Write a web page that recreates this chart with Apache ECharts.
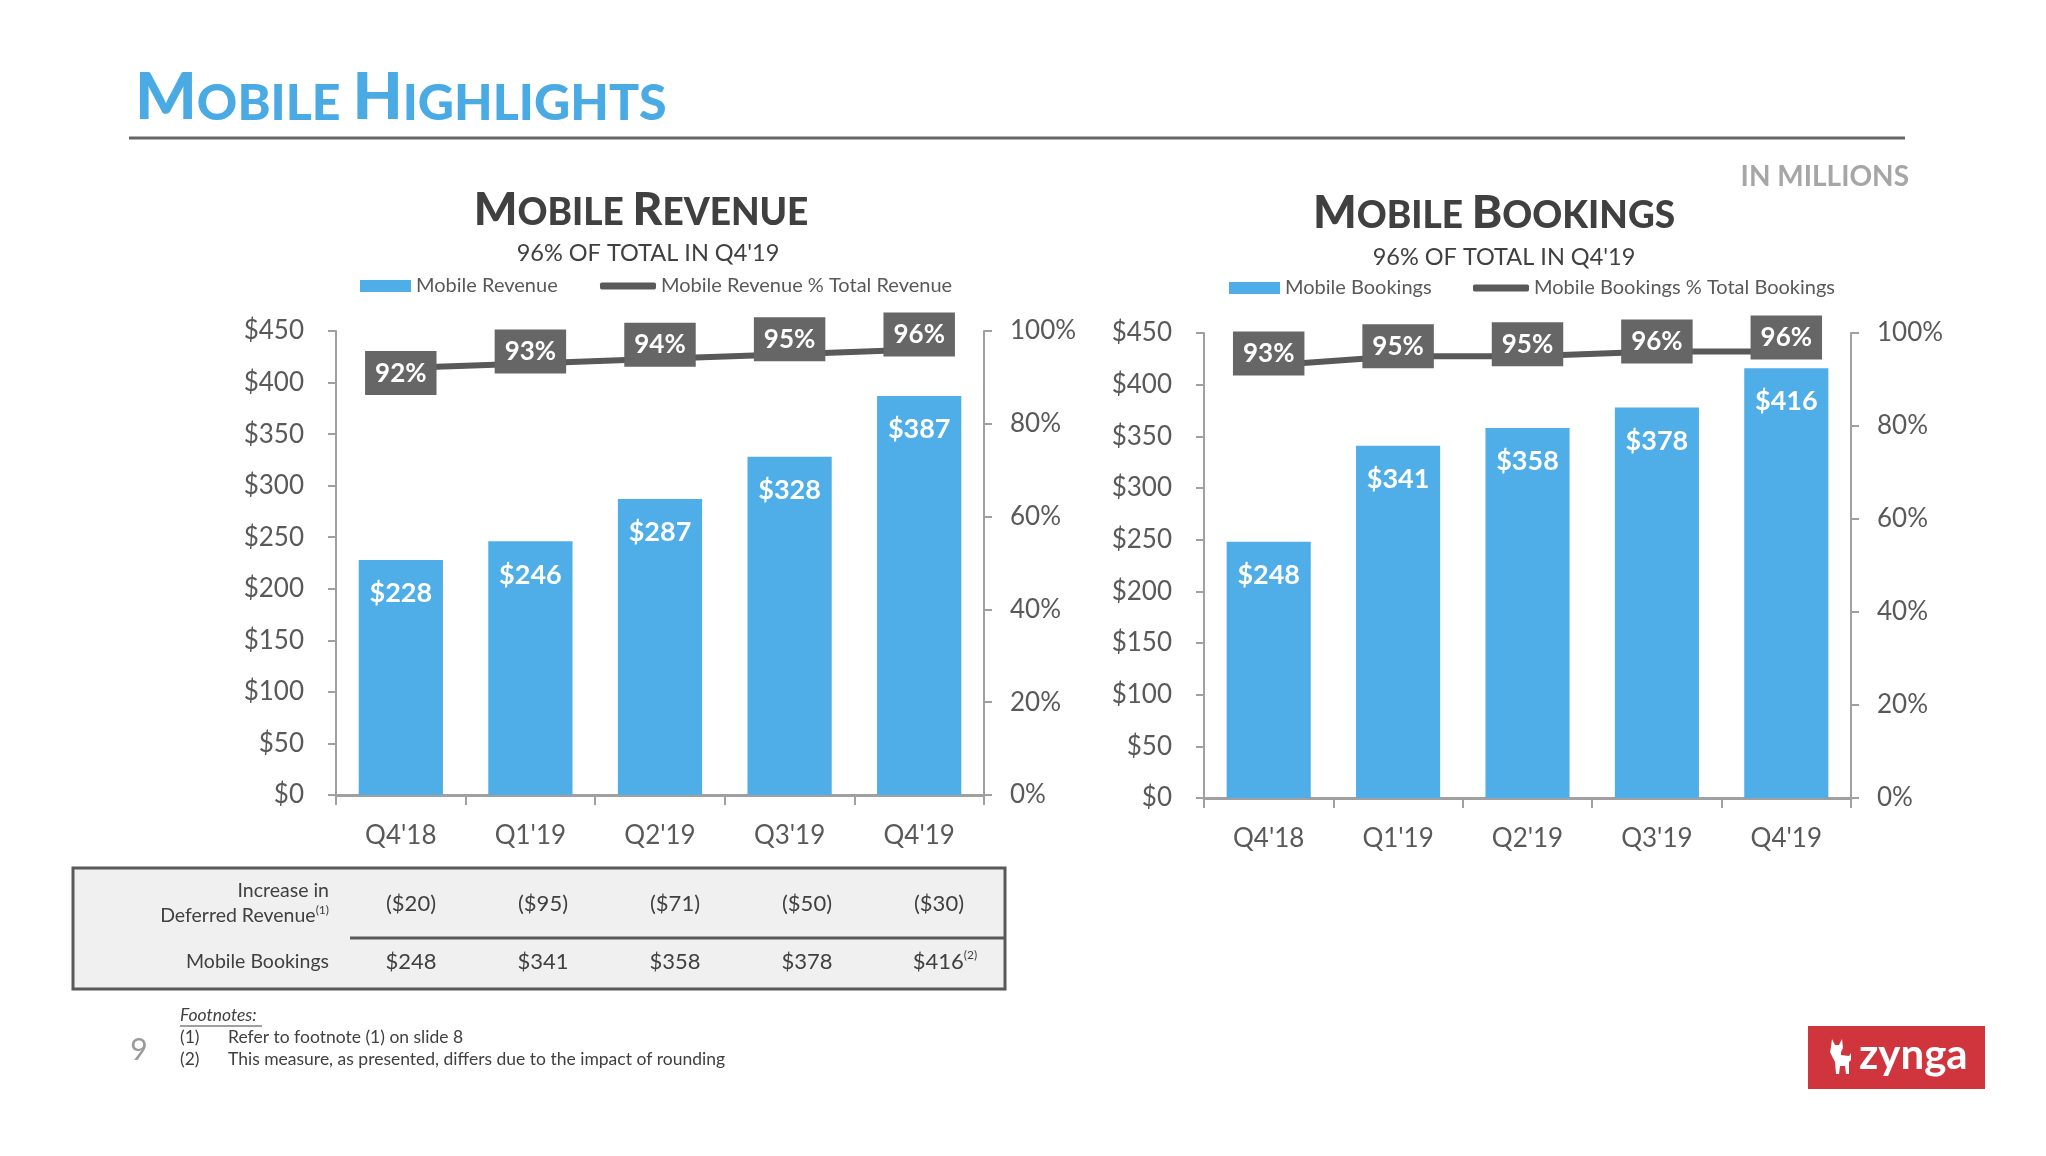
<!DOCTYPE html>
<html>
<head>
<meta charset="utf-8">
<script src="https://cdn.jsdelivr.net/npm/echarts@6/dist/echarts.min.js"></script>
<style>
html, body { margin: 0; padding: 0; background: #fff; }
#chart { width: 2046px; height: 1156px; }
</style>
</head>
<body>
<div id="chart"></div>
<script>
// data
var quarters = ["Q4'18", "Q1'19", "Q2'19", "Q3'19", "Q4'19"];
var revenue = [228, 246, 287, 328, 387];
var revenuePct = [92, 93, 94, 95, 96];
var bookings = [248, 341, 358, 378, 416];
var bookingsPct = [93, 95, 95, 96, 96];
var deferredRevenue = [-20, -95, -71, -50, -30];

var FONT = 'Lato';
var BLUE = '#4faee8';
var DARK = '#595959';
var TEXT = '#404040';
var AXIS = '#a0a0a0';

// label box nudges (like the hand placed boxes on the slide)
var revPctOffsets = [5, -12, -14, -15, -15];
var bookPctOffsets = [-12, -10, -12, -10, -14];

var chart = echarts.init(document.getElementById('chart'));

function xAx(gi) {
    return {
        type: 'category', gridIndex: gi, data: quarters,
        axisLine: { lineStyle: { color: AXIS, width: 3 } },
        axisTick: { show: true, length: 10, lineStyle: { color: AXIS, width: 2 } },
        axisLabel: { color: DARK, fontSize: 26, fontFamily: FONT, margin: 28 }
    };
}

function yAx(gi, right) {
    return {
        type: 'value', gridIndex: gi, position: right ? 'right' : 'left',
        min: 0, max: right ? 100 : 450, interval: right ? 20 : 50,
        splitLine: { show: false },
        axisLine: { show: true, lineStyle: { color: AXIS, width: 2 } },
        axisTick: { show: true, length: 8, lineStyle: { color: AXIS, width: 2 } },
        axisLabel: {
            color: DARK, fontSize: 26, fontFamily: FONT, margin: right ? 26 : 32,
            formatter: right ? '{value}%' : '${value}'
        }
    };
}

function barSeries(name, gi, values) {
    return {
        name: name, type: 'bar', xAxisIndex: gi, yAxisIndex: gi * 2,
        data: values, barWidth: '65%',
        itemStyle: { color: BLUE },
        label: {
            show: true, position: 'insideTop', distance: 20,
            color: '#fff', fontSize: 27, fontWeight: 'bold', fontFamily: FONT,
            formatter: '${c}'
        }
    };
}

function lineSeries(name, gi, values, offs) {
    return {
        name: name, type: 'line', xAxisIndex: gi, yAxisIndex: gi * 2 + 1,
        data: values.map(function (v, i) { return { value: v, label: { offset: [0, offs[i]] } }; }),
        color: DARK, z: 5,
        symbol: 'rect', symbolSize: 1,
        lineStyle: { color: DARK, width: 6 },
        label: {
            show: true, position: 'inside',
            backgroundColor: '#666', padding: [9, 10, 9, 10],
            color: '#fff', fontSize: 26, fontWeight: 'bold', fontFamily: FONT,
            formatter: '{c}%'
        }
    };
}

function legendAt(name, left, top, w, h, icon) {
    return {
        data: [name], left: left, top: top, padding: 0,
        itemWidth: w, itemHeight: h, icon: icon,
        textStyle: { fontSize: 20, color: DARK, fontFamily: FONT }
    };
}

function smallCaps(words) {
    // words like ['MOBILE', 'REVENUE'] -> first letter big, rest small
    return words.map(function (w) { return '{b|' + w.charAt(0) + '}{s|' + w.slice(1) + '}'; }).join('{s| }');
}

function txt(x, y, text, size, color, align, extra) {
    var st = { text: text, fontSize: size, fontFamily: FONT, fill: color, align: align || 'left', verticalAlign: 'middle' };
    if (extra) for (var k in extra) st[k] = extra[k];
    return { type: 'text', x: x, y: y, silent: true, style: st };
}

var fmtMoney = function (v) { return v < 0 ? '($' + (-v) + ')' : '$' + v; };

var graphics = [];
// page title
graphics.push({
    type: 'text', x: 135, y: 98, style: {
        text: smallCaps(['MOBILE', 'HIGHLIGHTS']), fill: '#4aaae4', fontFamily: FONT, verticalAlign: 'middle',
        rich: {
            b: { fontSize: 65, fontWeight: 900, fontFamily: FONT, fill: '#4aaae4', lineHeight: 65, verticalAlign: 'bottom' },
            s: { fontSize: 50, fontWeight: 900, fontFamily: FONT, fill: '#4aaae4', lineHeight: 50, verticalAlign: 'bottom', padding: [0, 0, 2, 0] }
        }
    }
});
graphics.push({ type: 'line', shape: { x1: 129, y1: 138, x2: 1905, y2: 138 }, style: { stroke: '#666', lineWidth: 3 } });
graphics.push(txt(1909, 177, 'IN MILLIONS', 28, '#a6a6a6', 'right', { fontWeight: 'bold' }));

// chart titles
function chartTitle(cx, y, words) {
    return {
        type: 'text', x: cx, y: y, style: {
            text: smallCaps(words), align: 'center', verticalAlign: 'middle', fontFamily: FONT,
            rich: {
                b: { fontSize: 46, fontWeight: 900, fontFamily: FONT, fill: TEXT, lineHeight: 46, verticalAlign: 'bottom' },
                s: { fontSize: 37, fontWeight: 900, fontFamily: FONT, fill: TEXT, lineHeight: 37, verticalAlign: 'bottom', padding: [0, 0, 1, 0] }
            }
        }
    };
}
graphics.push(chartTitle(641, 210, ['MOBILE', 'REVENUE']));
graphics.push(chartTitle(1494, 213, ['MOBILE', 'BOOKINGS']));
graphics.push(txt(648, 253, "96% OF TOTAL IN Q4'19", 23.5, TEXT, 'center'));
graphics.push(txt(1504, 257, "96% OF TOTAL IN Q4'19", 23.5, TEXT, 'center'));

// reconciliation table under the revenue chart
graphics.push({ type: 'rect', shape: { x: 73, y: 868, width: 932, height: 121 }, style: { fill: '#f0f0f0', stroke: '#595959', lineWidth: 3 } });
graphics.push({ type: 'line', shape: { x1: 350, y1: 938, x2: 1004, y2: 938 }, style: { stroke: '#595959', lineWidth: 3 } });
graphics.push(txt(329, 891, 'Increase in', 19.5, TEXT, 'right'));
graphics.push({
    type: 'text', x: 329, y: 916, style: {
        text: '{m|Deferred Revenue}{u|(1)}', align: 'right', verticalAlign: 'middle',
        rich: {
            m: { fontSize: 19.5, fontFamily: FONT, fill: TEXT, lineHeight: 24 },
            u: { fontSize: 12, fontFamily: FONT, fill: TEXT, lineHeight: 24, verticalAlign: 'top' }
        }
    }
});
graphics.push(txt(329, 962, 'Mobile Bookings', 19.5, TEXT, 'right'));
deferredRevenue.forEach(function (v, i) {
    graphics.push(txt(411 + i * 132, 904, fmtMoney(v), 22, TEXT, 'center'));
});
bookings.forEach(function (v, i) {
    if (i === bookings.length - 1) {
        graphics.push({
            type: 'text', x: 411 + i * 132 + 6, y: 962, style: {
                text: '{m|' + fmtMoney(v) + '}{u|(2)}', align: 'center', verticalAlign: 'middle',
                rich: {
                    m: { fontSize: 22, fontFamily: FONT, fill: TEXT, lineHeight: 26 },
                    u: { fontSize: 12, fontFamily: FONT, fill: TEXT, lineHeight: 26, verticalAlign: 'top' }
                }
            }
        });
    } else {
        graphics.push(txt(411 + i * 132, 962, fmtMoney(v), 22, TEXT, 'center'));
    }
});

// footnotes
graphics.push(txt(180, 1015, 'Footnotes:', 17.5, TEXT, 'left', { fontStyle: 'italic' }));
graphics.push({ type: 'line', shape: { x1: 180, y1: 1026, x2: 262, y2: 1026 }, style: { stroke: TEXT, lineWidth: 1 } });
graphics.push(txt(180, 1037, '(1)', 17.5, TEXT));
graphics.push(txt(228, 1037, 'Refer to footnote (1) on slide 8', 17.5, TEXT));
graphics.push(txt(180, 1059, '(2)', 17.5, TEXT));
graphics.push(txt(228, 1059, 'This measure, as presented, differs due to the impact of rounding', 17.5, TEXT));
graphics.push(txt(139, 1050, '9', 30, '#999', 'center'));

// zynga badge
graphics.push({ type: 'rect', shape: { x: 1808, y: 1026, width: 177, height: 63 }, style: { fill: '#d0343c' } });
graphics.push({
    type: 'polygon', x: 1825, y: 1039,
    shape: { points: [[7, 0], [10, 6], [14, 6], [17, 0], [18, 9], [16, 13], [16, 16], [24, 17], [26, 14], [26, 21], [24, 23], [24, 35], [21, 35], [20, 27], [15, 27], [14, 35], [11, 35], [10, 23], [5, 13], [6, 8]] },
    style: { fill: '#fff' }
});
graphics.push(txt(1859, 1055, 'zynga', 42, '#fff', 'left', { fontWeight: 'bold' }));

var option = {
    backgroundColor: '#fff',
    animation: false,
    textStyle: { fontFamily: FONT },
    grid: [
        { left: 336, top: 331, width: 648, height: 464 },
        { left: 1204, top: 333, width: 647, height: 465 }
    ],
    xAxis: [xAx(0), xAx(1)],
    yAxis: [yAx(0, false), yAx(0, true), yAx(1, false), yAx(1, true)],
    legend: [
        legendAt('Mobile Revenue', 360, 276, 51, 12, 'rect'),
        legendAt('Mobile Revenue % Total Revenue', 600, 276, 56, 7, 'roundRect'),
        legendAt('Mobile Bookings', 1229, 278, 51, 12, 'rect'),
        legendAt('Mobile Bookings % Total Bookings', 1473, 278, 56, 7, 'roundRect')
    ],
    series: [
        barSeries('Mobile Revenue', 0, revenue),
        lineSeries('Mobile Revenue % Total Revenue', 0, revenuePct, revPctOffsets),
        barSeries('Mobile Bookings', 1, bookings),
        lineSeries('Mobile Bookings % Total Bookings', 1, bookingsPct, bookPctOffsets)
    ],
    graphic: { elements: graphics }
};

chart.setOption(option);
</script>
</body>
</html>
